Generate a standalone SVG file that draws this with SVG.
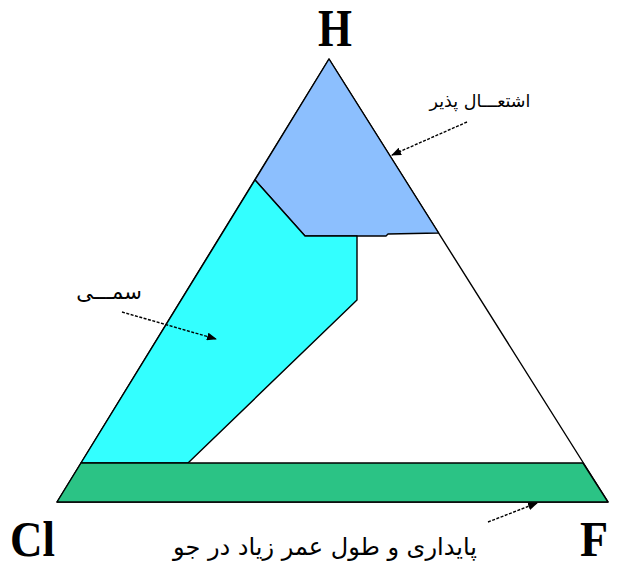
<svg xmlns="http://www.w3.org/2000/svg" width="620" height="566" viewBox="0 0 620 566">
<style>
.reg{stroke:#000;stroke-width:1.4;stroke-linejoin:round}
.lbl{font-family:"Liberation Serif",serif;font-weight:bold;fill:#000}
.fa{font-family:"DejaVu Sans","Noto Sans",sans-serif;fill:#000;text-anchor:middle}
.arr{stroke:#000;stroke-width:1.4;stroke-dasharray:3 1.5;fill:none;marker-end:url(#ah)}
</style>
<defs>
<marker id="ah" markerWidth="10" markerHeight="8" refX="9" refY="4" orient="auto" markerUnits="userSpaceOnUse">
<path d="M0,0 L10,4 L0,8 Z" fill="#000"/>
</marker>
</defs>
<rect width="620" height="566" fill="#fff"/>
<g id="triangle">
<polygon class="reg" points="329,59 57,502 608,502" fill="#fff"/>
</g>
<g id="flammable">
<polygon class="reg" points="329,59 255,180 305,236 386,236 388,234 438.6,233" fill="#8cbffe"/>
</g>
<g id="toxic">
<polygon class="reg" points="255,180 81,463 188,463 357,300 357,236 305,236" fill="#33ffff"/>
</g>
<g id="stable">
<polygon class="reg" points="81,463 583,463 608,502 57,502" fill="#2bc385"/>
</g>
<g id="labels">
<text class="lbl" font-size="52" transform="translate(318,46) scale(0.84,1)">H</text>
<text class="lbl" font-size="50" transform="translate(10,556) scale(0.9,1)">Cl</text>
<text class="lbl" font-size="50" transform="translate(580,556) scale(0.92,1)">F</text>
<text class="fa" x="480" y="107" font-size="17.5" direction="rtl">اشتعـــال پذیر</text>
<text class="fa" x="109" y="299" font-size="21" direction="rtl">سمـــی</text>
<text class="fa" x="325" y="555" font-size="24" direction="rtl">پایداری و طول عمر زیاد در جو</text>
</g>
<g id="connectors">
<line class="arr" x1="467" y1="122" x2="392" y2="155"/>
<line class="arr" x1="122" y1="312" x2="216" y2="339"/>
<line class="arr" x1="488" y1="522" x2="537" y2="503"/>
</g>
</svg>
